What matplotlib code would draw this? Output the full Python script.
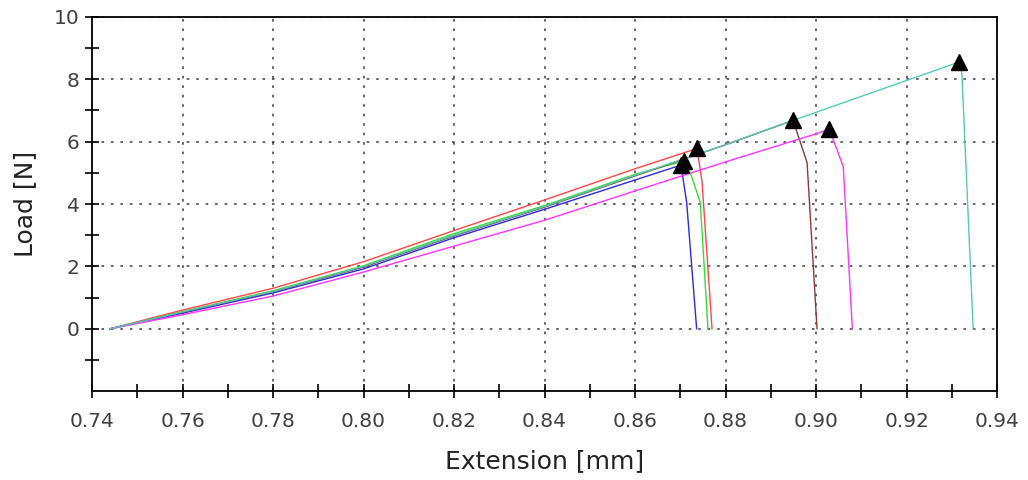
import matplotlib
matplotlib.use("Agg")
import matplotlib.pyplot as plt
from matplotlib.ticker import MultipleLocator, FixedLocator

# Data (extension in mm, load in N)
red_x = [0.744, 0.76, 0.78, 0.80, 0.82, 0.84, 0.86, 0.8737, 0.8748, 0.8770]
red_y = [0.0, 0.60, 1.30, 2.15, 3.15, 4.13, 5.13, 5.78, 4.70, 0.0]

green_x = [0.744, 0.76, 0.78, 0.80, 0.82, 0.84, 0.86, 0.8708, 0.8722, 0.8744, 0.8761]
green_y = [0.0, 0.55, 1.22, 2.02, 3.05, 3.95, 4.95, 5.38, 5.00, 4.05, 0.0]

blue_x = [0.744, 0.76, 0.78, 0.80, 0.82, 0.84, 0.86, 0.8702, 0.8705, 0.8714, 0.8736]
blue_y = [0.0, 0.50, 1.15, 1.92, 2.92, 3.83, 4.77, 5.25, 4.90, 4.05, 0.0]

brown_x = [0.744, 0.76, 0.78, 0.80, 0.82, 0.84, 0.86, 0.88, 0.8949, 0.8980, 0.9002]
brown_y = [0.0, 0.53, 1.19, 1.98, 2.98, 3.90, 4.90, 5.90, 6.68, 5.33, 0.0]

magenta_x = [0.744, 0.76, 0.78, 0.80, 0.82, 0.84, 0.86, 0.88, 0.90, 0.9029, 0.9060, 0.9080]
magenta_y = [0.0, 0.45, 1.05, 1.82, 2.65, 3.48, 4.42, 5.35, 6.25, 6.40, 5.20, 0.0]

cyan_x = [0.744, 0.76, 0.78, 0.80, 0.82, 0.84, 0.86, 0.88, 0.8949, 0.91, 0.9316, 0.9322, 0.9347]
cyan_y = [0.0, 0.54, 1.20, 2.00, 3.00, 3.92, 4.92, 5.90, 6.68, 7.45, 8.55, 8.20, 0.0]

peak_x = [0.8737, 0.8708, 0.8702, 0.8949, 0.9029, 0.9316]
peak_y = [5.78, 5.38, 5.25, 6.68, 6.40, 8.55]

x_ticks = [0.74, 0.76, 0.78, 0.80, 0.82, 0.84, 0.86, 0.88, 0.90, 0.92, 0.94]
y_ticks = [0, 2, 4, 6, 8, 10]

fig = plt.figure(figsize=(10.28, 4.80), dpi=100)
ax = fig.add_axes([0.0895, 0.185, 0.8805, 0.780])

series = [
    (red_x, red_y, "#ff4545"),
    (green_x, green_y, "#33dd33"),
    (blue_x, blue_y, "#2a2ae0"),
    (brown_x, brown_y, "#8b3a3a"),
    (magenta_x, magenta_y, "#ff33ff"),
    (cyan_x, cyan_y, "#55c8b8"),
]
for xs, ys, c in series:
    ax.plot(xs, ys, color=c, lw=1.0, zorder=3)

ax.plot(peak_x, peak_y, linestyle="none", marker="^", color="black",
        markersize=11, zorder=4)

ax.set_xlim(0.74, 0.94)
ax.set_ylim(-2, 10)
ax.xaxis.set_major_locator(FixedLocator(x_ticks))
ax.xaxis.set_minor_locator(MultipleLocator(0.01))
ax.yaxis.set_major_locator(FixedLocator(y_ticks))
ax.yaxis.set_minor_locator(FixedLocator([-1, 1, 3, 5, 7, 9]))
ax.set_xticklabels([f"{v:.2f}" for v in x_ticks])
ax.set_yticklabels([str(v) for v in y_ticks])

ax.grid(True, which="major", color="#3a3a3a", linestyle=(0, (1.7, 4.5)), lw=1.1)
ax.tick_params(which="major", direction="inout", length=10, width=1.2,
               labelsize=14.5, labelcolor="#404040", color="black")
ax.tick_params(axis="x", which="major", pad=10)
ax.tick_params(axis="y", which="major", pad=4)
ax.tick_params(which="minor", direction="inout", length=10, width=1.2,
               color="black")
for s in ax.spines.values():
    s.set_linewidth(1.3)
    s.set_color("black")

ax.set_xlabel("Extension [mm]", fontsize=18, color="#222222", labelpad=13)
ax.set_ylabel("Load [N]", fontsize=18, color="#222222", labelpad=12)

fig.savefig("out.png", dpi=100)
